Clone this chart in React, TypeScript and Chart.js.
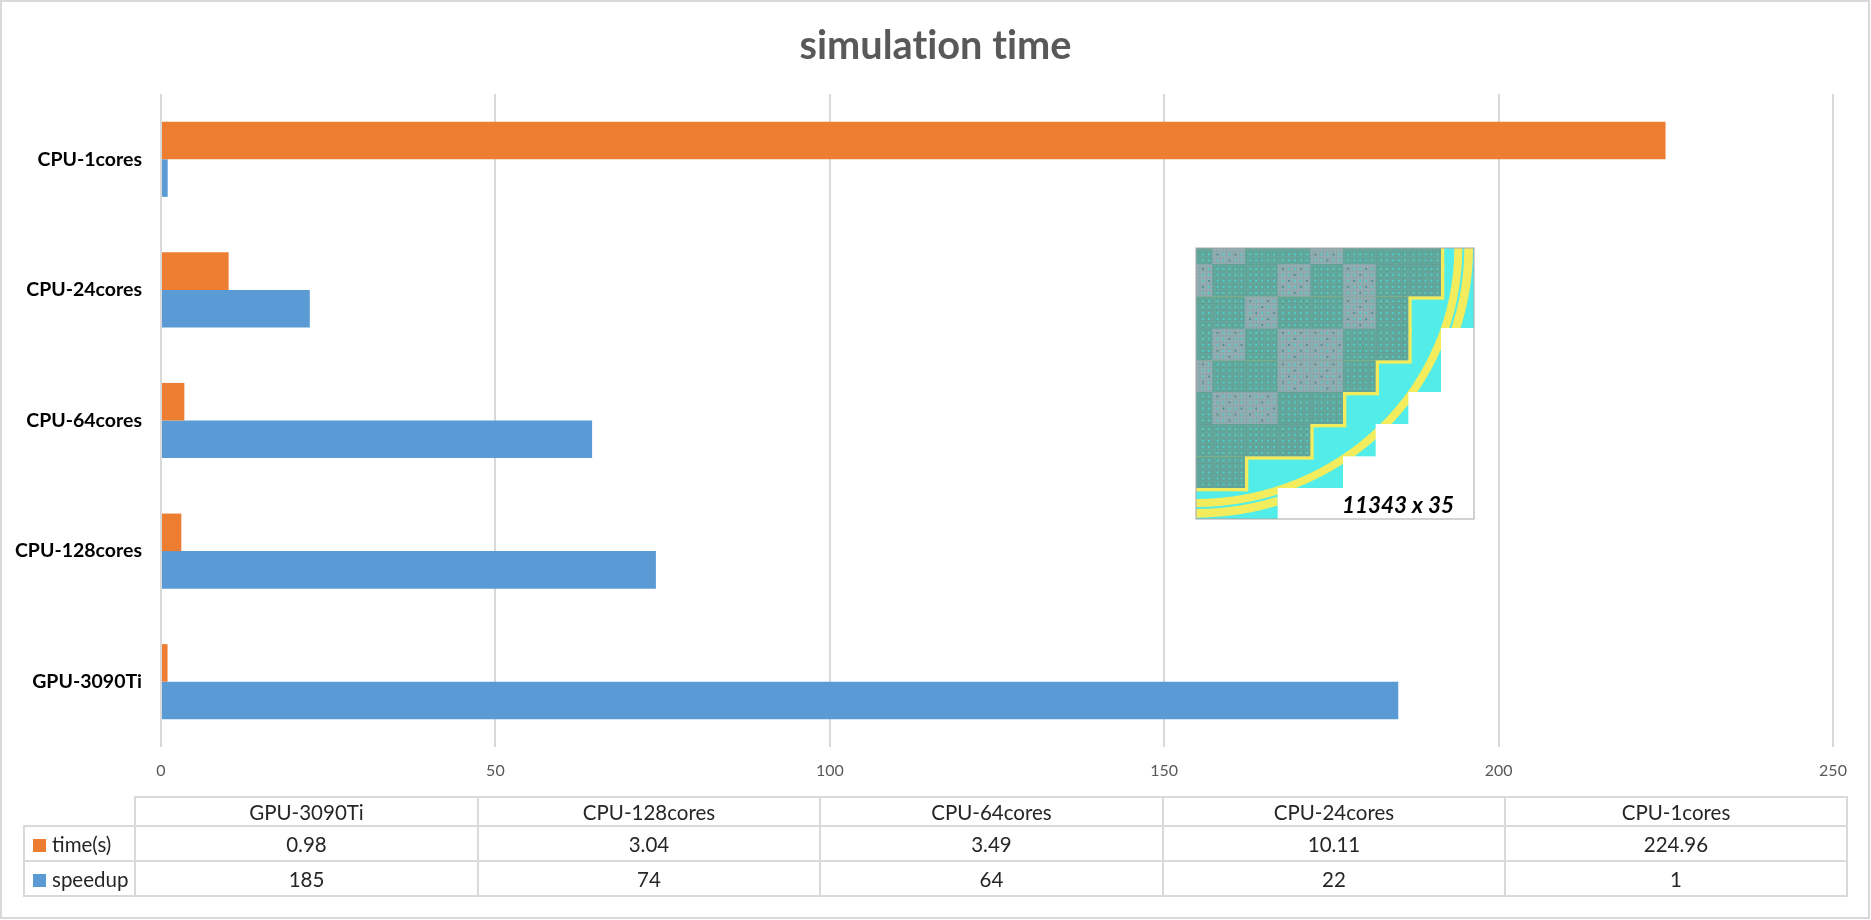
import React, { useEffect, useRef } from "react";
import { Chart, registerables } from "chart.js";

Chart.register(...registerables);

const categories = ["GPU-3090Ti", "CPU-128cores", "CPU-64cores", "CPU-24cores", "CPU-1cores"];
const timeValues = [0.98, 3.04, 3.49, 10.11, 224.96];
const speedupValues = [185, 74, 64.46, 22.25, 1];
const seriesNames = ["time(s)", "speedup"];
const seriesColors = ["#ED7D31", "#5B9BD5"];
const chartTitle = "simulation time";
const insetCaption = "11343 x 35";

const FONT = "Lato, 'Noto Sans', sans-serif";
const GRID = "#D9D9D9";

const insetXs = [0, 49, 147, 245, 343, 441, 539, 637, 735, 834];
const insetYs = [0, 48, 145, 242, 337, 432, 528, 625, 720, 813];
const insetGrey = [[0, 1], [0, 4], [1, 0], [1, 3], [1, 5], [2, 2], [2, 5], [3, 1], [3, 3], [3, 4], [4, 0], [4, 3], [4, 4], [5, 1], [5, 2]];
const insetTealRight = [735, 735, 637, 637, 539, 441, 343, 147];
const insetWhite = [[735, 240, 834, 434], [637, 432, 834, 530], [539, 528, 834, 627], [441, 625, 834, 722], [245, 720, 834, 813]];

const insetPlugin = {
  id: "inset",
  beforeDraw(chart: any) {
    chart.ctx.textRendering = "optimizeSpeed";
  },
  afterDraw(chart: any) {
    const ctx = chart.ctx;
    ctx.save();
    ctx.translate(1196, 248);
    ctx.scale(1 / 3, 1 / 3);
    ctx.beginPath();
    ctx.rect(0, 0, 834, 813);
    ctx.clip();
    ctx.fillStyle = "#52EDE8";
    ctx.fillRect(0, 0, 834, 813);

    const band = (a: number, b: number, w: number) => {
      ctx.fillStyle = "#F3EC5C";
      ctx.beginPath();
      ctx.ellipse(0, 0, a + w / 2, b + w / 2, 0, 0, Math.PI / 2);
      ctx.ellipse(0, 0, a - w / 2, b - w / 2, 0, Math.PI / 2, 0, true);
      ctx.closePath();
      ctx.fill();
    };
    band(787, 765, 24);
    for (const [x, y, w, h] of [[735, 0, 99, 240], [0, 720, 245, 93]]) {
      ctx.save();
      ctx.beginPath();
      ctx.rect(x, y, w, h);
      ctx.clip();
      band(818, 796, 26);
      ctx.restore();
    }

    ctx.fillStyle = "#FFFFFF";
    for (const [x0, y0, x1, y1] of insetWhite) ctx.fillRect(x0, y0, x1 - x0, y1 - y0);

    ctx.fillStyle = "#F3EC5C";
    insetTealRight.forEach((right, r) => ctx.fillRect(0, insetYs[r], right + 10, insetYs[r + 1] - insetYs[r] + 10));
    insetTealRight.forEach((right, r) => {
      ctx.fillStyle = "#63A99F";
      ctx.fillRect(0, insetYs[r], right, insetYs[r + 1] - insetYs[r] + (r < 7 && insetTealRight[r + 1] >= right ? 3 : 0));
    });
    insetTealRight.forEach((right, r) => {
      const y0 = insetYs[r];
      const h = insetYs[r + 1] - y0;
      for (const [gr, gc] of insetGrey) {
        if (gr !== r) continue;
        ctx.fillStyle = "#93AEB4";
        ctx.fillRect(insetXs[gc], y0, insetXs[gc + 1] - insetXs[gc], h);
      }
      ctx.fillStyle = "rgba(90,120,100,0.12)";
      for (let x = 0; x < right - 3; x += 10) ctx.fillRect(x, y0, 3, h);
      for (let y = y0; y < y0 + h - 3; y += 10) ctx.fillRect(0, y, right, 3);
      for (let c = 0; c < 9; c++) {
        const cx0 = insetXs[c];
        const cx1 = insetXs[c + 1];
        if (cx0 >= right) continue;
        const grey = insetGrey.some(([gr, gc]) => gr === r && gc === c);
        for (let i = 0; i < 5; i++) {
          for (let j = 0; j < 5; j++) {
            const dx = cx1 - 85 + i * 18;
            const dy = y0 + h - 85 + j * 18;
            if (dx < cx0 + 2 || dy < y0 + 2) continue;
            ctx.fillStyle = grey && (i + j) % 3 === 0 ? "#4A8A8C" : "#48D8D4";
            ctx.fillRect(dx, dy, 5, 5);
          }
        }
      }
    });
    ctx.restore();

    ctx.save();
    ctx.strokeStyle = "#A6A6A6";
    ctx.lineWidth = 1;
    ctx.strokeRect(1196, 248, 278, 271);
    ctx.fillStyle = "#000000";
    ctx.font = `italic bold 22.5px ${FONT}`;
    ctx.textAlign = "center";
    ctx.textBaseline = "middle";
    ctx.fillText(insetCaption, 1398, 506);
    ctx.restore();
  },
};

const cell: React.CSSProperties = {
  border: `2px solid ${GRID}`,
  padding: 0,
  textAlign: "center",
  fontFamily: FONT,
  fontSize: 20.5,
  color: "#262626",
  overflow: "hidden",
  whiteSpace: "nowrap",
};

export default function App() {
  const ref = useRef<HTMLCanvasElement>(null);

  useEffect(() => {
    document.body.style.margin = "0";
    const labels = [...categories].reverse();
    const chart = new Chart(ref.current as HTMLCanvasElement, {
      type: "bar",
      plugins: [insetPlugin],
      data: {
        labels,
        datasets: [
          { label: seriesNames[0], data: [...timeValues].reverse(), backgroundColor: seriesColors[0] },
          { label: seriesNames[1], data: [...speedupValues].reverse(), backgroundColor: seriesColors[1] },
        ],
      },
      options: {
        indexAxis: "y",
        responsive: false,
        animation: false,
        layout: { padding: 0 },
        datasets: { bar: { categoryPercentage: 0.575, barPercentage: 1 } },
        plugins: {
          legend: { display: false },
          tooltip: { enabled: false },
          title: {
            display: true,
            text: chartTitle,
            color: "#595959",
            font: { family: FONT, size: 39.7, weight: "bold", lineHeight: 1.2 },
            padding: { top: 22, bottom: 24.36 },
          },
        },
        scales: {
          x: {
            min: 0,
            max: 250,
            ticks: { stepSize: 50, color: "#595959", font: { family: FONT, size: 16 }, padding: 14, maxRotation: 0 },
            grid: { color: GRID, lineWidth: 2, drawTicks: false },
            border: { display: false },
            afterFit: (s: any) => { s.height = 173; },
          },
          y: {
            ticks: { color: "#000000", font: { family: FONT, size: 19.5, weight: "bold" }, padding: 11 },
            grid: { display: false },
            border: { display: false },
            afterFit: (s: any) => { s.width = 161; },
          },
          rightGap: {
            type: "linear",
            axis: "y",
            position: "right",
            ticks: { display: false },
            grid: { display: false },
            border: { display: false },
            afterFit: (s: any) => { s.width = 38; },
          },
        },
      },
    } as any);
    return () => chart.destroy();
  }, []);

  return (
    <div style={{ position: "relative", width: 1871, height: 920, background: "#fff", overflow: "hidden" }}>
      <canvas ref={ref} width={1871} height={920} style={{ position: "absolute", left: 0, top: 0, display: "block" }} />
      <div style={{ position: "absolute", left: 0, top: 0, width: 1870, height: 919, boxSizing: "border-box", border: `2px solid ${GRID}`, pointerEvents: "none" }} />
      <table style={{ position: "absolute", left: 23, top: 796, width: 1824, tableLayout: "fixed", borderCollapse: "collapse" }}>
        <colgroup>
          <col style={{ width: 111 }} />
          <col style={{ width: 343 }} />
          <col style={{ width: 342 }} />
          <col style={{ width: 343 }} />
          <col style={{ width: 342 }} />
          <col style={{ width: 342 }} />
        </colgroup>
        <tbody>
          <tr style={{ height: 29 }}>
            <td style={{ ...cell, borderTop: "none", borderLeft: "none" }} />
            {categories.map((c) => <td key={c} style={cell}>{c}</td>)}
          </tr>
          {[timeValues, speedupValues].map((vals, s) => (
            <tr key={s} style={{ height: 35 }}>
              <td style={{ ...cell, textAlign: "left", paddingLeft: 8 }}>
                <span style={{ display: "inline-block", width: 13, height: 13, background: seriesColors[s], marginRight: 6 }} />
                {seriesNames[s]}
              </td>
              {vals.map((v, i) => <td key={i} style={cell}>{s === 0 ? v.toFixed(2) : Math.round(v)}</td>)}
            </tr>
          ))}
        </tbody>
      </table>
    </div>
  );
}
